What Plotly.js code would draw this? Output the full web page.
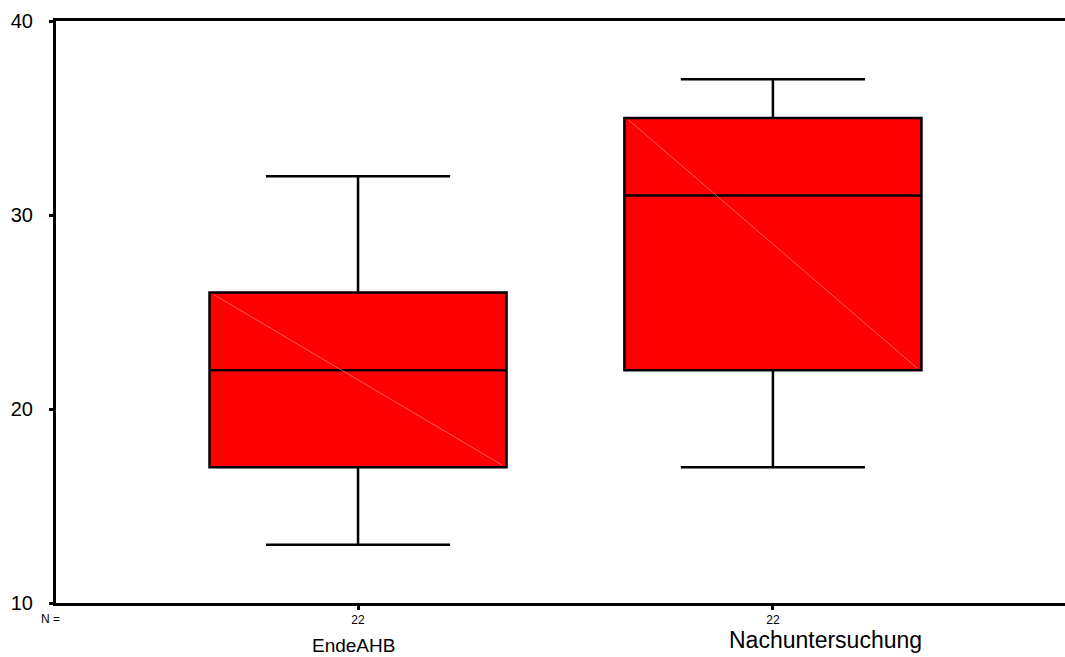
<!DOCTYPE html>
<html><head><meta charset="utf-8">
<script src="https://cdn.plot.ly/plotly-3.0.1.min.js"></script>
<style>html,body{margin:0;padding:0;background:#fff}</style>
</head><body><div id="chart" style="width:1065px;height:657px"></div>
<script>
const categories = ["EndeAHB", "Nachuntersuchung"];
const nCounts = ["22", "22"];
const lowerFence = [13, 17];
const q1 = [17, 22];
const median = [22, 31];
const q3 = [26, 35];
const upperFence = [32, 37];
const yTicks = [10, 20, 30, 40];

const boxWidth = 0.716;
const positions = categories.map((c, i) => i);

const traces = categories.map((c, i) => ({
  type: 'box',
  name: c,
  x: [positions[i]],
  q1: [q1[i]], median: [median[i]], q3: [q3[i]],
  lowerfence: [lowerFence[i]], upperfence: [upperFence[i]],
  width: boxWidth,
  whiskerwidth: 0.62,
  fillcolor: '#ff0000',
  line: {color: '#000000', width: 2.5},
  boxpoints: false,
  hoverinfo: 'skip',
  showlegend: false
}));

const shapes = categories.map((c, i) => ({
  type: 'line', xref: 'x', yref: 'y', layer: 'above',
  x0: positions[i] - boxWidth / 2 + 0.01, y0: q3[i] - 0.1,
  x1: positions[i] + boxWidth / 2 - 0.01, y1: q1[i] + 0.1,
  line: {color: 'rgba(255,140,140,0.7)', width: 1}
}));

const annotations = [
  {text: 'N =', xref: 'paper', yref: 'paper', x: 0, y: 0, xanchor: 'center', yanchor: 'middle',
   xshift: -6, yshift: -16, showarrow: false, font: {family: 'Liberation Sans, Arial', size: 12, color: '#000'}},
  {text: categories[0], xref: 'x', yref: 'paper', x: positions[0], y: 0, xanchor: 'center', yanchor: 'middle',
   xshift: -5, yshift: -42, showarrow: false, font: {family: 'Liberation Sans, Arial', size: 19, color: '#000'}},
  {text: categories[1], xref: 'x', yref: 'paper', x: positions[1], y: 0, xanchor: 'center', yanchor: 'middle',
   xshift: 53, yshift: -37, showarrow: false, font: {family: 'Liberation Sans, Arial', size: 23, color: '#000'}}
];

const layout = {
  width: 1065, height: 657,
  margin: {l: 56, r: 0, t: 21, b: 54},
  paper_bgcolor: '#fff', plot_bgcolor: '#fff',
  font: {family: 'Liberation Sans, Arial', color: '#000'},
  xaxis: {
    range: [-0.728, 1.704],
    tickvals: positions, ticktext: nCounts,
    ticks: 'outside', ticklen: 4, tickwidth: 3, tickcolor: '#000',
    tickfont: {size: 12, color: '#000'},
    showline: true, linecolor: '#000', linewidth: 3, mirror: true,
    showgrid: false, zeroline: false, fixedrange: true
  },
  yaxis: {
    range: [10, 40],
    tickvals: yTicks, ticktext: yTicks.map(String),
    ticks: 'outside', ticklen: 4, tickwidth: 3, tickcolor: '#000',
    ticklabelstandoff: 12,
    tickfont: {size: 20, color: '#000'},
    showline: true, linecolor: '#000', linewidth: 3,
    showgrid: false, zeroline: false, fixedrange: true
  },
  shapes: shapes,
  annotations: annotations,
  showlegend: false
};

Plotly.newPlot('chart', traces, layout, {displayModeBar: false, staticPlot: true});
</script></body></html>
